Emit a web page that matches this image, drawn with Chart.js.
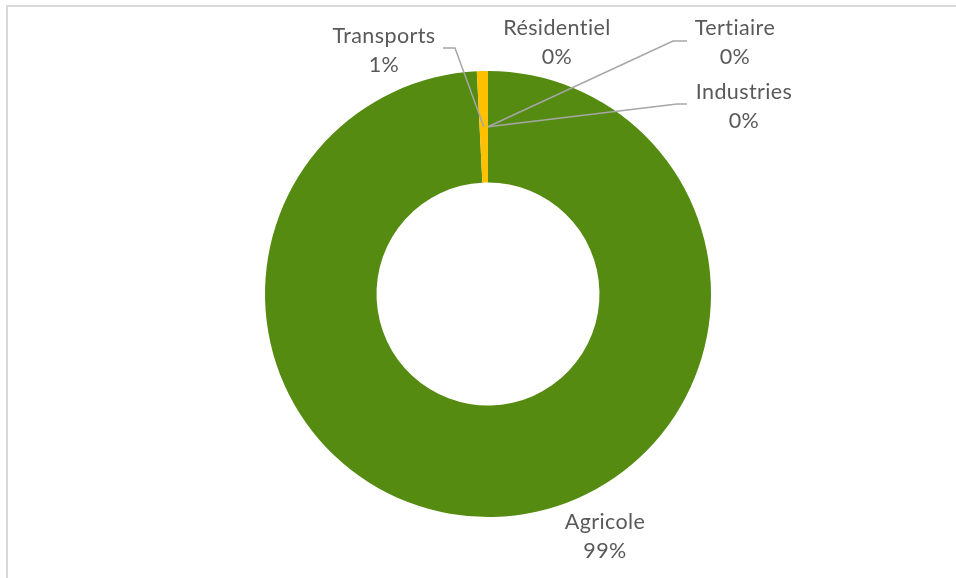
<!DOCTYPE html>
<html>
<head>
<meta charset="utf-8">
<script src="https://cdn.jsdelivr.net/npm/chart.js@4"></script>
<style>
  html, body { margin: 0; padding: 0; background: #fff; }
  #wrap { position: relative; width: 956px; height: 578px; overflow: hidden; }
  #frame { position: absolute; left: 6px; top: 5px; width: 980px; height: 600px;
           border: 2px solid #D9D9D9; box-sizing: border-box; }
  canvas { position: absolute; left: 0; top: 0; }
</style>
</head>
<body>
<div id="wrap">
  <div id="frame"></div>
  <canvas id="donut" width="956" height="578"></canvas>
</div>
<script>
// données (ordre horaire à partir du haut)
const secteurs = ['Résidentiel', 'Tertiaire', 'Industries', 'Agricole', 'Transports'];
const valeurs = [0, 0, 0, 99.2, 0.8];
const couleurs = ['#4472C4', '#A5A5A5', '#ED7D31', '#558B11', '#FFC000'];

// position des étiquettes par rapport au centre (dx, dy de la ligne de base)
const etiquettes = [
    { dx: 69, dy: -259, ligne: null },
    { dx: 247, dy: -259, ligne: [[199, -253], [185, -253]] },
    { dx: 256, dy: -195, ligne: [[199, -190], [189, -190]] },
    { dx: 117, dy: 235, ligne: null },
    { dx: -104, dy: -251, ligne: [[-45, -246], [-33, -246]] }
];

const labelPlugin = {
    id: 'etiquettes',
    afterDraw(chart) {
        const ctx = chart.ctx;
        const meta = chart.getDatasetMeta(0);
        const total = valeurs.reduce((a, b) => a + b, 0);
        ctx.save();
        meta.data.forEach((arc, i) => {
            const p = arc.getProps(['x', 'y', 'startAngle', 'endAngle', 'innerRadius', 'outerRadius'], true);
            const mid = (p.startAngle + p.endAngle) / 2;
            const r = (p.innerRadius + p.outerRadius) / 2;
            const ax = p.x + Math.cos(mid) * r;
            const ay = p.y + Math.sin(mid) * r;
            const e = etiquettes[i];
            if (e.ligne) {
                ctx.strokeStyle = '#A6A6A6';
                ctx.lineWidth = 1.5;
                ctx.beginPath();
                ctx.moveTo(p.x + e.ligne[0][0], p.y + e.ligne[0][1]);
                ctx.lineTo(p.x + e.ligne[1][0], p.y + e.ligne[1][1]);
                ctx.lineTo(ax, ay);
                ctx.stroke();
            }
            ctx.fillStyle = '#595959';
            ctx.font = '21.5px Lato';
            ctx.letterSpacing = '0.4px';
            ctx.textAlign = 'center';
            ctx.textBaseline = 'alphabetic';
            ctx.fillText(secteurs[i], p.x + e.dx, p.y + e.dy);
            ctx.fillText(Math.round(valeurs[i] / total * 100) + '%', p.x + e.dx, p.y + e.dy + 29);
        });
        ctx.restore();
    }
};

new Chart(document.getElementById('donut').getContext('2d'), {
    type: 'doughnut',
    data: {
        labels: secteurs,
        datasets: [{
            data: valeurs,
            backgroundColor: couleurs,
            borderWidth: 0
        }]
    },
    options: {
        responsive: false,
        animation: false,
        cutout: '50%',
        layout: { padding: { left: 265, right: 245, top: 71, bottom: 61 } },
        plugins: {
            legend: { display: false },
            tooltip: { enabled: false }
        }
    },
    plugins: [labelPlugin]
});
</script>
</body>
</html>
